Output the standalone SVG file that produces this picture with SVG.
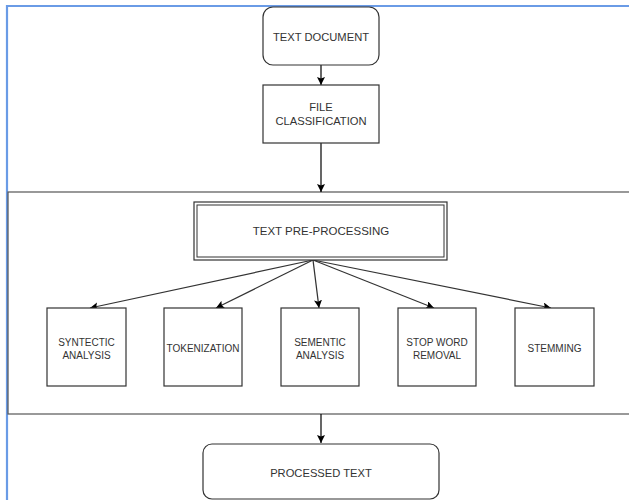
<svg xmlns="http://www.w3.org/2000/svg" width="629" height="500" viewBox="0 0 629 500">
<defs>
<marker id="ah" viewBox="0 0 10 10" refX="10" refY="5" markerWidth="8" markerHeight="8" markerUnits="userSpaceOnUse" orient="auto">
<path d="M0,0 L10,5 L0,10 L2,5 Z" fill="#000"/>
</marker>
</defs>
<style>
.box{fill:#fff;stroke:#333;stroke-width:1.2}
.t{font-family:"Liberation Sans",Arial,sans-serif;fill:#333;text-anchor:middle;dominant-baseline:central}
.big{font-size:11.2px}
.sm{font-size:10px}
.con{stroke:#000;stroke-width:1.2;fill:none;marker-end:url(#ah)}
.fan{stroke:#333;stroke-width:1.2;fill:none;marker-end:url(#ah)}
</style>
<rect x="0" y="0" width="629" height="500" fill="#fff"/>
<g id="frame">
<path d="M7,500 L7,6 L629,6" fill="none" stroke="#6a9be6" stroke-width="2.2"/>
</g>
<g id="lane">
<rect x="8" y="192" width="630" height="222" fill="none" stroke="#555" stroke-width="1.2"/>
</g>
<g id="connectors">
<line class="con" x1="321" y1="65" x2="321" y2="85"/>
<line class="con" x1="321" y1="143" x2="321" y2="192"/>
<line class="fan" x1="313" y1="260" x2="90" y2="308"/>
<line class="fan" x1="313" y1="260" x2="216" y2="308"/>
<line class="fan" x1="313" y1="260" x2="319" y2="308"/>
<line class="fan" x1="313" y1="260" x2="434" y2="308"/>
<line class="fan" x1="313" y1="260" x2="551" y2="308"/>
<line class="con" x1="321" y1="414" x2="321" y2="443"/>
</g>
<g id="text-document">
<rect class="box" x="263" y="7" width="116" height="58" rx="10"/>
<text class="t big" x="321" y="37">TEXT DOCUMENT</text>
</g>
<g id="file-classification">
<rect class="box" x="263" y="85" width="116" height="58"/>
<text class="t big" x="321" y="107">FILE</text>
<text class="t big" x="321" y="121">CLASSIFICATION</text>
</g>
<g id="text-pre-processing">
<rect class="box" x="194" y="202" width="253" height="58"/>
<rect x="197" y="205" width="247" height="52" fill="none" stroke="#333" stroke-width="1"/>
<text class="t" x="321" y="231" style="font-size:11.5px">TEXT PRE-PROCESSING</text>
</g>
<g id="syntectic-analysis">
<rect class="box" x="47" y="308" width="79" height="78"/>
<text class="t sm" x="86.5" y="342">SYNTECTIC</text>
<text class="t sm" x="86.5" y="355">ANALYSIS</text>
</g>
<g id="tokenization">
<rect class="box" x="164" y="308" width="78" height="78"/>
<text class="t sm" x="203" y="348">TOKENIZATION</text>
</g>
<g id="sementic-analysis">
<rect class="box" x="281" y="308" width="78" height="78"/>
<text class="t sm" x="320" y="342">SEMENTIC</text>
<text class="t sm" x="320" y="355">ANALYSIS</text>
</g>
<g id="stop-word-removal">
<rect class="box" x="398" y="308" width="78" height="78"/>
<text class="t sm" x="437" y="342">STOP WORD</text>
<text class="t sm" x="437" y="355">REMOVAL</text>
</g>
<g id="stemming">
<rect class="box" x="515" y="308" width="79" height="78"/>
<text class="t sm" x="554.5" y="348">STEMMING</text>
</g>
<g id="processed-text">
<rect class="box" x="203" y="444" width="236" height="55" rx="9"/>
<text class="t big" x="321" y="473">PROCESSED TEXT</text>
</g>
</svg>
